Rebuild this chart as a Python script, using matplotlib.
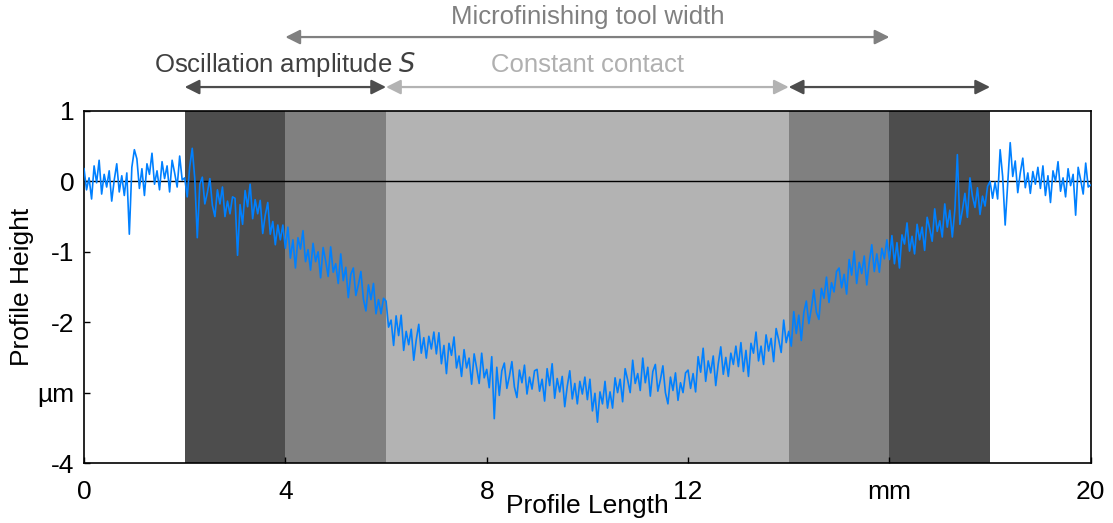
import numpy as np
import matplotlib
matplotlib.use("Agg")
import matplotlib.pyplot as plt

plt.rcParams["font.family"] = ["Liberation Sans", "DejaVu Sans"]

profile_rows = [
    [0.18, -0.12, 0.05, -0.25, 0.22, -0.02, 0.30, -0.18, 0.10, -0.08, 0.15, -0.28, 0.02, 0.25, -0.15, 0.08, -0.20, 0.12, -0.75, 0.20],
    [0.45, 0.32, -0.10, 0.18, -0.20, 0.25, 0.10, 0.40, -0.04, 0.15, -0.12, 0.28, 0.04, 0.22, -0.15, 0.30, 0.12, -0.08, 0.36, 0.02],
    [0.05, -0.22, 0.21, 0.47, 0.04, -0.80, -0.04, 0.06, -0.32, -0.16, 0.04, -0.34, -0.50, -0.12, -0.32, -0.08, -0.50, -0.28, -0.46, -0.22],
    [-0.24, -1.05, -0.33, -0.61, -0.13, -0.36, -0.04, -0.53, -0.26, -0.46, -0.27, -0.74, -0.48, -0.30, -0.75, -0.57, -0.90, -0.62, -0.83, -0.62],
    [-0.95, -0.65, -1.09, -0.83, -1.23, -0.80, -0.96, -0.70, -1.14, -0.97, -1.26, -0.88, -1.14, -1.00, -1.37, -0.94, -1.13, -1.35, -0.93, -1.29],
    [-1.17, -1.45, -1.03, -1.41, -1.22, -1.65, -1.32, -1.23, -1.62, -1.47, -1.28, -1.67, -1.84, -1.47, -1.68, -1.45, -1.88, -1.68, -1.88, -1.66],
    [-1.70, -2.07, -1.97, -2.33, -1.91, -2.19, -1.90, -2.40, -2.13, -2.32, -2.10, -2.54, -2.25, -2.03, -2.44, -2.22, -2.51, -2.20, -2.38, -2.14],
    [-2.45, -2.15, -2.59, -2.33, -2.73, -2.30, -2.47, -2.21, -2.65, -2.48, -2.77, -2.39, -2.65, -2.51, -2.88, -2.45, -2.65, -2.87, -2.44, -2.79],
    [-2.67, -2.93, -2.49, -3.37, -2.64, -3.04, -2.69, -2.58, -2.94, -2.77, -2.56, -2.92, -3.07, -2.68, -2.86, -2.61, -3.02, -2.78, -2.95, -2.69],
    [-2.67, -2.98, -2.81, -3.12, -2.66, -2.90, -2.59, -3.08, -2.80, -2.99, -2.77, -3.20, -2.91, -2.69, -3.09, -2.87, -3.16, -2.84, -3.02, -2.78],
    [-3.10, -2.81, -3.26, -3.01, -3.42, -2.99, -3.16, -2.84, -3.22, -2.99, -3.22, -2.79, -3.00, -2.81, -3.13, -2.66, -2.82, -3.00, -2.54, -2.87],
    [-2.73, -2.97, -2.51, -2.86, -2.64, -3.05, -2.70, -2.60, -2.98, -2.82, -2.62, -3.00, -3.16, -2.78, -2.97, -2.72, -3.11, -2.86, -3.00, -2.72],
    [-2.68, -2.94, -2.73, -2.99, -2.49, -2.71, -2.37, -2.84, -2.55, -2.72, -2.48, -2.90, -2.59, -2.35, -2.74, -2.50, -2.77, -2.44, -2.60, -2.34],
    [-2.63, -2.29, -2.70, -2.40, -2.77, -2.30, -2.44, -2.14, -2.55, -2.34, -2.60, -2.18, -2.41, -2.23, -2.56, -2.09, -2.25, -2.43, -1.97, -2.29],
    [-2.13, -2.34, -1.85, -2.16, -1.90, -2.26, -1.86, -1.70, -2.02, -1.80, -1.54, -1.86, -1.96, -1.52, -1.66, -1.36, -1.72, -1.44, -1.57, -1.28],
    [-1.23, -1.51, -1.32, -1.60, -1.11, -1.33, -0.99, -1.45, -1.15, -1.31, -1.06, -1.47, -1.15, -0.90, -1.28, -1.03, -1.29, -0.95, -1.10, -0.83],
    [-1.11, -0.77, -1.17, -0.87, -1.23, -0.76, -0.89, -0.59, -0.99, -0.78, -1.03, -0.61, -0.83, -0.65, -0.98, -0.51, -0.67, -0.85, -0.39, -0.71],
    [-0.56, -0.79, -0.32, -0.65, -0.41, -0.79, -0.41, 0.38, -0.61, -0.41, -0.17, -0.51, 0.05, -0.21, -0.37, -0.09, -0.47, -0.21, -0.35, -0.07],
    [0.00, -0.24, -0.01, -0.25, 0.45, 0.07, -0.62, -0.04, 0.55, 0.07, 0.29, -0.16, 0.12, 0.33, -0.09, 0.12, -0.17, 0.14, -0.04, 0.20],
    [-0.10, 0.22, -0.20, 0.08, -0.30, 0.15, 0.00, 0.28, -0.14, 0.05, -0.22, 0.18, -0.06, 0.10, -0.48, 0.20, 0.02, -0.18, 0.26, -0.08],
]
profile_end = [-0.05]
profile_step = 0.05

# shaded zones (start, end, colour)
zones = [
    (2, 4, "#4d4d4d"),
    (4, 6, "#808080"),
    (6, 14, "#b3b3b3"),
    (14, 16, "#808080"),
    (16, 18, "#4d4d4d"),
]

xticks = [0, 4, 8, 12, 16, 20]
xtick_labels = ["0", "4", "8", "12", "mm", "20"]
yticks = [-4, -3, -2, -1, 0, 1]
ytick_labels = ["-4", "µm", "-2", "-1", "0", "1"]

# annotation arrows: (x_start, x_end, y, colour)
arrows = [
    (4, 16, 2.05, "#808080"),
    (2, 6, 1.34, "#4d4d4d"),
    (6, 14, 1.34, "#b3b3b3"),
    (14, 18, 1.34, "#4d4d4d"),
]
# labels: (x, y, text, colour)
labels = [
    (10, 2.34, "Microfinishing tool width", "#808080"),
    (4, 1.66, "Oscillation amplitude $\\it{S}$", "#404040"),
    (10, 1.66, "Constant contact", "#b0b0b0"),
]

profile = np.concatenate([np.array(r) for r in profile_rows] + [np.array(profile_end)])
length = np.arange(len(profile)) * profile_step

fig = plt.figure(figsize=(11.13, 5.23), dpi=100)
ax = fig.add_axes([0.0755, 0.1147, 0.9045, 0.6731])

for x0, x1, c in zones:
    ax.axvspan(x0, x1, color=c, lw=0, zorder=1)
ax.axhline(0, color="black", lw=1.0, zorder=2)
ax.plot(length, profile, color="#0080ff", lw=1.2, zorder=3)

ax.set_xlim(0, 20)
ax.set_ylim(-4, 1)
ax.set_xticks(xticks)
ax.set_xticklabels(xtick_labels)
ax.set_yticks(yticks)
ax.set_yticklabels(ytick_labels)
ax.tick_params(direction="in", labelsize=19, length=4, width=1)
ax.tick_params(axis="x", pad=12)
ax.tick_params(axis="y", pad=7)
for s in ax.spines.values():
    s.set_linewidth(1.2)

ax.set_xlabel("Profile Length", fontsize=19, labelpad=-7)
ax.set_ylabel("Profile Height", fontsize=19, labelpad=2)

for x0, x1, y, c in arrows:
    ax.annotate("", xy=(x1, y), xytext=(x0, y), xycoords="data",
                annotation_clip=False,
                arrowprops=dict(arrowstyle="<|-|>", color=c, lw=1.6,
                                mutation_scale=22, shrinkA=0, shrinkB=0))
for x, y, t, c in labels:
    ax.text(x, y, t, color=c, fontsize=18.5, ha="center", va="center",
            clip_on=False)

fig.savefig("out.png", dpi=100)
